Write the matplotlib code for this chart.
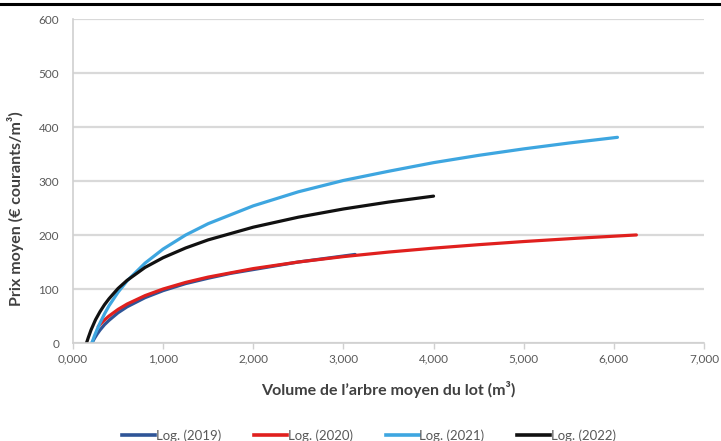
import matplotlib.pyplot as plt
from matplotlib.ticker import FuncFormatter, MultipleLocator
from matplotlib.lines import Line2D

plt.rcParams['font.family'] = ['Lato', 'DejaVu Sans']

# logarithmic trend curves, one per sale year (volume in m3, price in EUR/m3)
x_2019 = [0.21, 0.24, 0.27, 0.3, 0.35, 0.4, 0.5, 0.6, 0.8, 1.0, 1.25, 1.5, 1.75, 2.0, 2.5, 3.13]
y_2019 = [0, 9, 17, 24, 34, 42, 56, 67, 84, 97, 110, 120, 129, 136, 150, 164]

x_2020 = [0.28, 0.32, 0.36, 0.4, 0.5, 0.6, 0.8, 1.0, 1.25, 1.5, 2.0, 2.5, 3.0, 3.5, 4.0, 4.5, 5.0, 5.6, 6.25]
y_2020 = [30.5, 37.8, 44.2, 50.0, 62.2, 72.1, 87.8, 100, 112.2, 122.1, 137.8, 150.0, 160.0, 168.4,
          175.7, 182.1, 187.9, 194.1, 200.1]

x_2021 = [0.21, 0.24, 0.27, 0.3, 0.35, 0.4, 0.5, 0.6, 0.8, 1.0, 1.25, 1.5, 2.0, 2.5, 3.0, 3.5, 4.0,
          4.5, 5.0, 5.5, 6.04]
y_2021 = [0, 14, 26, 37, 54, 69, 94, 115, 148, 174, 200, 221, 254, 280, 301, 318, 334, 347.5,
          359.5, 370.3, 380.9]

x_2022 = [0.15, 0.17, 0.2, 0.25, 0.3, 0.35, 0.4, 0.5, 0.6, 0.8, 1.0, 1.25, 1.5, 2.0, 2.5, 3.0, 3.5, 4.0]
y_2022 = [0, 10, 24, 43, 58, 71, 82, 101, 116, 140, 158, 176, 191, 214.5, 233.0, 248.2, 261.0, 272.0]

labels = ['Log. (2019)', 'Log. (2020)', 'Log. (2021)', 'Log. (2022)']
colors = ['#2f5597', '#e0201e', '#3ea6e0', '#111111']

fig = plt.figure(figsize=(7.21, 4.41), dpi=100)
ax = fig.add_axes([0.1012, 0.2222, 0.8752, 0.7347])

series = [(x_2019, y_2019), (x_2020, y_2020), (x_2021, y_2021), (x_2022, y_2022)]
for (xs, ys), c in zip(series, colors):
    ax.plot(xs, ys, color=c, lw=2.3, solid_capstyle='round', solid_joinstyle='round')

ax.set_xlim(0, 7)
ax.set_ylim(0, 600)
ax.xaxis.set_major_locator(MultipleLocator(1))
ax.yaxis.set_major_locator(MultipleLocator(100))
ax.xaxis.set_major_formatter(FuncFormatter(lambda v, p: f'{v:.3f}'.replace('.', ',')))
ax.yaxis.set_major_formatter(FuncFormatter(lambda v, p: f'{v:.0f}'))

ax.grid(axis='y', color='#d9d9d9', lw=1.6)
ax.set_axisbelow(True)
for s in ['top', 'right']:
    ax.spines[s].set_visible(False)
for s in ['left', 'bottom']:
    ax.spines[s].set_color('#d0d0d0')
    ax.spines[s].set_linewidth(1.2)
ax.tick_params(axis='x', colors='#d0d0d0', length=4, width=1, labelcolor='#595959', labelsize=8.5)
ax.tick_params(axis='y', length=0, labelcolor='#595959', labelsize=8.5, pad=10)

ax.set_xlabel("Volume de l\u2019arbre moyen du lot (m\u00b3)", fontsize=11.5, fontweight='bold',
              color='#404040', labelpad=12)
ax.set_ylabel('Prix moyen (\u20ac courants/m\u00b3)', fontsize=11.5, fontweight='bold',
              color='#404040')
ax.yaxis.set_label_coords(-0.077, 0.414)

handles = [Line2D([0], [0], color=c, lw=2.6) for c in colors]
fig.legend(handles, labels, loc='center', bbox_to_anchor=(0.512, 0.012), ncol=4, frameon=False,
           fontsize=9.5, labelcolor='#595959', handlelength=2.5, handletextpad=0.05,
           columnspacing=2.5)

# thick rule across the top of the figure
fig.add_artist(Line2D([0, 1], [0.991, 0.991], color='black', lw=2.2, transform=fig.transFigure))

fig.savefig('out.png', dpi=100)
